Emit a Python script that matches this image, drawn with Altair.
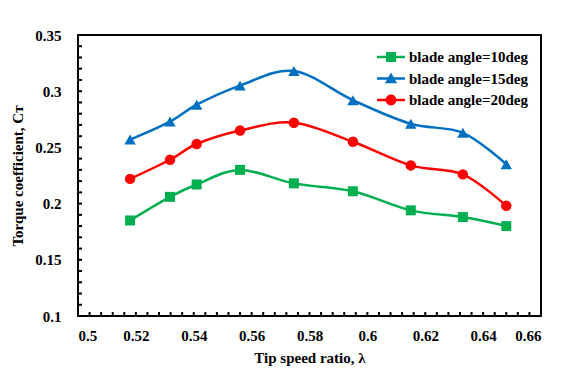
import altair as alt
import pandas as pd

tsr = [0.518, 0.5318, 0.541, 0.556, 0.5746, 0.595, 0.615, 0.633, 0.648]
ct_10 = [0.185, 0.206, 0.217, 0.230, 0.218, 0.211, 0.194, 0.188, 0.180]
ct_15 = [0.257, 0.273, 0.288, 0.305, 0.318, 0.292, 0.271, 0.263, 0.235]
ct_20 = [0.222, 0.239, 0.253, 0.265, 0.272, 0.255, 0.234, 0.226, 0.198]
series = ["blade angle=10deg", "blade angle=15deg", "blade angle=20deg"]
colors = ["#00B050", "#0070C0", "#FF0000"]
shapes = ["square", "triangle-up", "circle"]
x_minor = [round(0.5 + 0.004 * i, 4) for i in range(41)]
y_minor = [round(0.1 + 0.01 * i, 3) for i in range(26)]
x_frame = [0.5, 0.66, 0.66, 0.5, 0.5]
y_frame = [0.1, 0.1, 0.35, 0.35, 0.1]

rows = []
for name, vals in zip(series, [ct_10, ct_15, ct_20]):
    for x, y in zip(tsr, vals):
        rows.append({"tsr": x, "ct": y, "series": name})
df = pd.DataFrame(rows)
frame_df = pd.DataFrame({"tsr": x_frame, "ct": y_frame, "k": list(range(5))})
xtick_df = pd.DataFrame({"tsr": x_minor, "ct": [y_frame[0]] * len(x_minor)})
ytick_df = pd.DataFrame({"tsr": [x_frame[0]] * len(y_minor), "ct": y_minor})

FONT = "Liberation Serif"
xs = alt.Scale(domain=[0.5, 0.66], nice=False, zero=False)
ys = alt.Scale(domain=[0.1, 0.35], nice=False, zero=False)
cs = alt.Scale(domain=series, range=colors)

x_ax = alt.Axis(
    values=x_minor, ticks=False, tickSize=0, domain=False,
    labelExpr="abs(datum.value*50 - round(datum.value*50)) < 0.01 ? format(datum.value, '.2~f') : ''",
    labelOverlap=False, labelColor="#000000", labelPadding=12, labelFont=FONT,
    labelFontWeight="bold", labelFontSize=15, titleFont=FONT, titleFontWeight="bold",
    titleFontSize=15, titleColor="#000000", title="Tip speed ratio, \u03bb",
    titlePadding=7, grid=False)
y_ax = alt.Axis(
    values=y_minor, ticks=False, tickSize=0, domain=False,
    labelExpr="abs(datum.value*20 - round(datum.value*20)) < 0.01 ? format(datum.value, '.2~f') : ''",
    labelOverlap=False, labelColor="#000000", labelPadding=17, labelFont=FONT,
    labelFontWeight="bold", labelFontSize=15, titleFont=FONT, titleFontWeight="bold",
    titleFontSize=15, titleColor="#000000", title="Torque coefficient, C\u1d1b",
    titlePadding=9, grid=False)

X = alt.X("tsr:Q", scale=xs, axis=x_ax)
Y = alt.Y("ct:Q", scale=ys, axis=y_ax)

lines = alt.Chart(df).mark_line(interpolate="cardinal", strokeWidth=2.5).encode(
    x=X, y=Y, color=alt.Color("series:N", scale=cs, legend=None), detail="series:N")

pts = []
for name, shp, sz in zip(series, shapes, [100, 130, 110]):
    pts.append(alt.Chart(df).transform_filter(alt.datum.series == name).mark_point(
        filled=True, opacity=1, shape=shp, size=sz).encode(
        x=X, y=Y, color=alt.Color("series:N", scale=cs, legend=None)))

frame = alt.Chart(frame_df).mark_line(
    color="#000000", strokeWidth=2, strokeCap="square", strokeJoin="miter").encode(
    x=X, y=Y, order="k:Q")

xticks = alt.Chart(xtick_df).mark_point(
    filled=True, opacity=1, color="#000000", size=64,
    shape="M-0.25,-1H0.25V0H-0.25Z").encode(x=X, y=Y)
yticks = alt.Chart(ytick_df).mark_point(
    filled=True, opacity=1, color="#000000", size=64,
    shape="M0,-0.25H1V0.25H0Z").encode(x=X, y=Y)

main = alt.layer(frame, xticks, yticks, lines, *pts)

bar = "M-1.55,-0.14H1.55V0.14H-1.55Z"
leg_shapes = [
    bar + "M-0.55,-0.55H0.55V0.55H-0.55Z",
    bar + "M0,-0.66L0.68,0.52H-0.68Z",
    bar + "M0.6,0A0.6,0.6 0 1,1 -0.6,0A0.6,0.6 0 1,1 0.6,0Z",
]


def make_legend():
    return alt.Legend(title=None, orient="none", legendX=303, legendY=12,
                      symbolSize=324, labelOffset=8, rowPadding=3.5, padding=0,
                      labelFont=FONT, labelFontWeight="bold",
                      labelFontSize=15, labelColor="#000000")


legend_layer = alt.Chart(df).transform_filter("false").mark_point(
    filled=True, opacity=1).encode(
    color=alt.Color("series:N", scale=alt.Scale(domain=series, range=colors),
                    legend=make_legend()),
    shape=alt.Shape("series:N", scale=alt.Scale(domain=series, range=leg_shapes),
                    legend=make_legend()))

chart = alt.layer(main, legend_layer).resolve_scale(
    color="independent", shape="independent"
).properties(
    width=463, height=281,
    autosize=alt.AutoSizeParams(type="none"),
    padding={"left": 70, "top": 27, "right": 28, "bottom": 63},
).configure_view(stroke="#000000", strokeWidth=2)

chart.save("out.html", embed_options={"renderer": "svg", "actions": False})
